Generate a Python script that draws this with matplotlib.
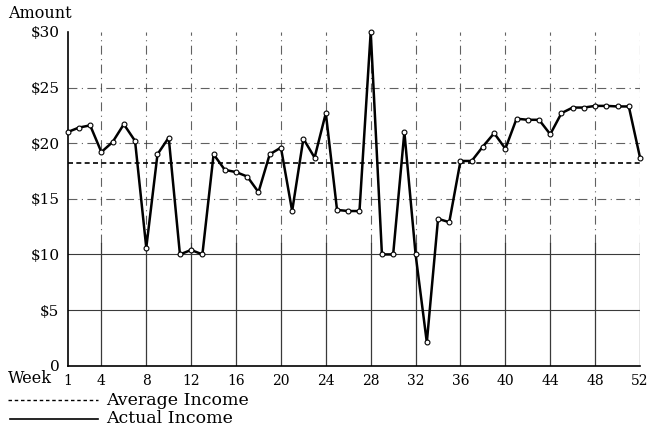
import matplotlib
matplotlib.use("Agg")
import matplotlib.pyplot as plt
from matplotlib.lines import Line2D

weeks = list(range(1, 53))
income = [21.0, 21.4, 21.6, 19.2, 20.1, 21.7, 20.2, 10.6, 19.0, 20.5,
          10.0, 10.4, 10.0, 19.0, 17.6, 17.4, 17.0, 15.6, 19.0, 19.6,
          13.9, 20.4, 18.7, 22.7, 14.0, 13.9, 13.9, 30.0, 10.0, 10.0,
          21.0, 10.0, 2.1, 13.2, 12.9, 18.4, 18.4, 19.7, 20.9, 19.5,
          22.2, 22.1, 22.1, 20.8, 22.7, 23.2, 23.2, 23.35, 23.35, 23.3,
          23.3, 18.7]
average = 18.2
x_ticks = [1, 4, 8, 12, 16, 20, 24, 28, 32, 36, 40, 44, 48, 52]
x_grid = [4, 8, 12, 16, 20, 24, 28, 32, 36, 40, 44, 48, 52]
y_ticks = [0, 5, 10, 15, 20, 25, 30]
y_labels = ["0", "$5", "$10", "$15", "$20", "$25", "$30"]

plt.rcParams['font.family'] = ['DejaVu Serif']

fig = plt.figure(figsize=(6.48, 4.34), dpi=100)
ax = fig.add_axes([0.1045, 0.1574, 0.8832, 0.7691])
ax.set_xlim(1, 52)
ax.set_ylim(0, 30)

gc = '#3a3a3a'
# grid lines
for yv in [5, 10]:
    ax.axhline(yv, color=gc, lw=0.8, zorder=1)
for yv in [15, 20, 25]:
    ax.axhline(yv, color=gc, lw=0.8, ls=(0, (8, 4, 1, 4)), zorder=1, alpha=0.8)
for xv in x_grid:
    ax.plot([xv, xv], [0, 11], color=gc, lw=0.9, zorder=1)
    ax.plot([xv, xv], [11, 30], color=gc, lw=0.8, ls=(0, (8, 4, 1, 4)), zorder=1, alpha=0.8)

# average line
ax.axhline(average, color='black', lw=1.2, ls=(0, (3, 2)), zorder=2)
# actual income
ax.plot(weeks, income, color='black', lw=1.8, marker='o', ms=3.5,
        mfc='white', mec='black', mew=0.8, zorder=3, clip_on=False)

for s in ['top', 'right']:
    ax.spines[s].set_visible(False)
ax.spines['left'].set_linewidth(1.2)
ax.spines['bottom'].set_linewidth(1.2)

ax.set_xticks(x_ticks)
ax.set_xticklabels([str(v) for v in x_ticks], fontsize=10)
ax.set_yticks(y_ticks)
ax.set_yticklabels(y_labels, fontsize=11)
ax.tick_params(length=0, pad=6)

fig.text(0.012, 0.968, "Amount", fontsize=11.5, va='center', ha='left')
fig.text(0.012, 0.127, "Week", fontsize=11.5, va='center', ha='left')

fig.add_artist(Line2D([0.012, 0.151], [0.0783, 0.0783], color='black', lw=1.0,
                      ls=(0, (2.5, 2)), transform=fig.transFigure))
fig.add_artist(Line2D([0.015, 0.151], [0.0346, 0.0346], color='black', lw=1.2,
                      transform=fig.transFigure))
fig.text(0.1636, 0.0783, "Average Income", fontsize=12.5, va='center', ha='left')
fig.text(0.1636, 0.0346, "Actual Income", fontsize=12.5, va='center', ha='left')

fig.savefig("out.png", dpi=100)
